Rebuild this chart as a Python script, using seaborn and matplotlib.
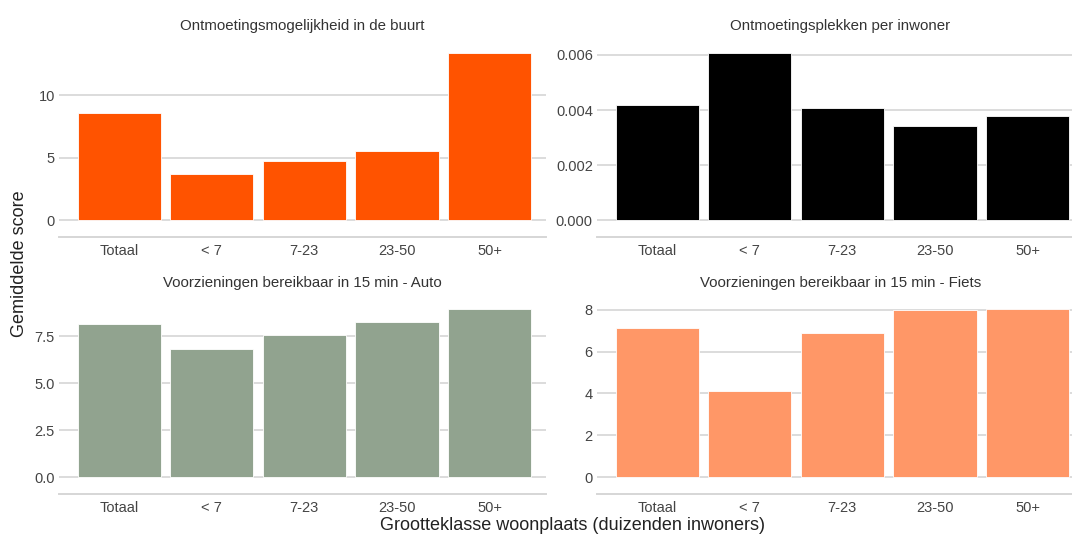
import matplotlib
matplotlib.use("Agg")
import matplotlib.pyplot as plt
import seaborn as sns
from matplotlib.ticker import FormatStrFormatter

# data
categories = ["Totaal", "< 7", "7-23", "23-50", "50+"]
ontmoeting_buurt = [8.56, 3.70, 4.77, 5.52, 13.40]
plekken_per_inwoner = [0.00417, 0.00608, 0.00408, 0.00344, 0.00377]
auto_15min = [8.15, 6.83, 7.54, 8.24, 8.92]
fiets_15min = [7.11, 4.10, 6.87, 7.97, 8.02]

titles = ["Ontmoetingsmogelijkheid in de buurt", "Ontmoetingsplekken per inwoner",
          "Voorzieningen bereikbaar in 15 min - Auto", "Voorzieningen bereikbaar in 15 min - Fiets"]
series = [ontmoeting_buurt, plekken_per_inwoner, auto_15min, fiets_15min]
colors = ["#FF5300", "#000000", "#91A38F", "#FF9767"]
yticks = [[0, 5, 10], [0, 0.002, 0.004, 0.006], [0, 2.5, 5, 7.5], [0, 2, 4, 6, 8]]
yfmt = ["%d", "%.3f", "%.1f", "%d"]

sns.set_theme(style="white")
plt.rcParams['font.family'] = ['Liberation Sans', 'DejaVu Sans']

W, H = 1072, 536
fig = plt.figure(figsize=(W / 100, H / 100), dpi=100)

# panel boxes in pixels: left, top, bottom
boxes = [(59, 52.7, 237.3), (597, 52.7, 237.3), (59, 309.3, 494), (597, 309.3, 494)]

for (l, t, b), title, vals, col, ticks, fmt in zip(boxes, titles, series, colors, yticks, yfmt):
    ax = fig.add_axes([l / W, 1 - b / H, 487 / W, (b - t) / H])
    sns.barplot(x=categories, y=vals, color=col, saturation=1, width=0.9,
                edgecolor="white", linewidth=0.6, ax=ax)
    ax.set_xlim(-0.65, 4.61)
    top = max(vals)
    ax.set_ylim(-0.101 * top, top)
    ax.set_yticks(ticks)
    ax.yaxis.set_major_formatter(FormatStrFormatter(fmt))
    ax.set_axisbelow(True)
    ax.yaxis.grid(True, color="#dcdcdc", linewidth=1.4)
    ax.xaxis.grid(False)
    for s in ["left", "top", "right"]:
        ax.spines[s].set_visible(False)
    ax.spines["bottom"].set_color("#d6d6d6")
    ax.spines["bottom"].set_linewidth(1.4)
    ax.tick_params(axis="y", length=0, pad=3, labelsize=10.5, labelcolor="#444444")
    ax.tick_params(axis="x", length=3, width=1, color="#d6d6d6", pad=2,
                   labelsize=10.5, labelcolor="#444444")
    ax.set_xlabel("")
    ax.set_ylabel("")
    ax.set_title(title, fontsize=10.8, color="#333333", pad=16)

fig.text(20 / W, 1 - 264 / H, "Gemiddelde score", rotation=90, ha="center", va="center",
         fontsize=13, color="#222222")
fig.text(573 / W, 1 - 525 / H, "Grootteklasse woonplaats (duizenden inwoners)",
         ha="center", va="center", fontsize=13, color="#222222")

fig.savefig("out.png", dpi=100)
